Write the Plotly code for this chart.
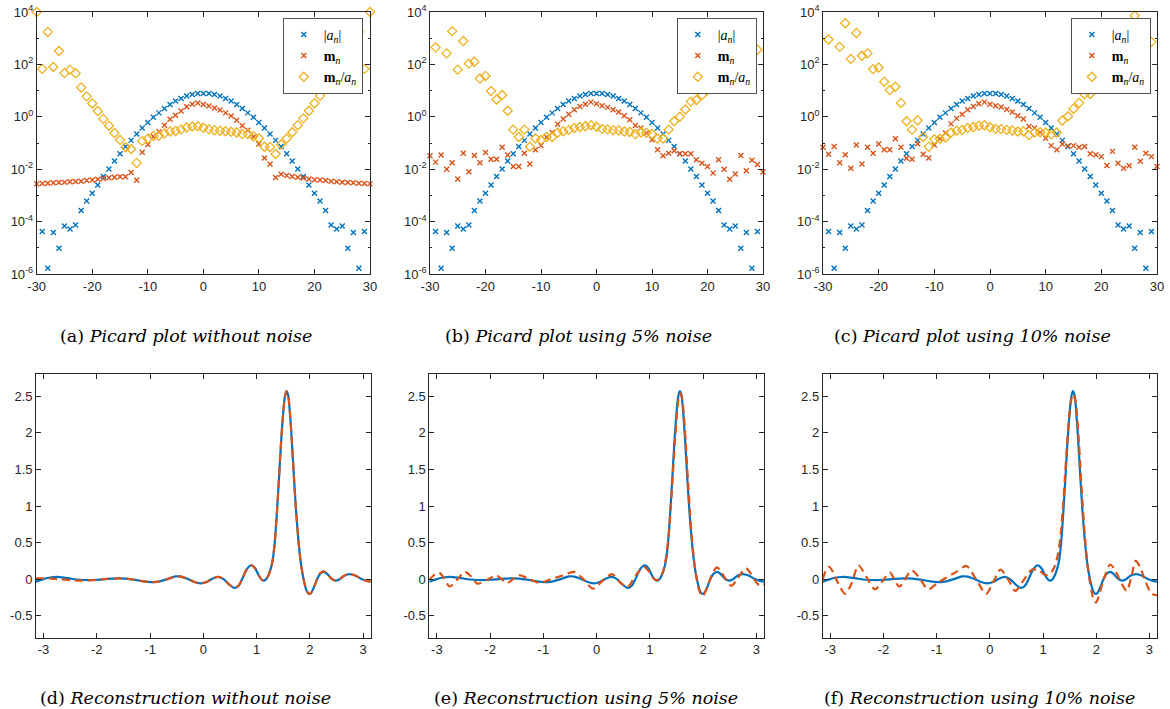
import plotly.graph_objects as go

# ---------------- data: top row (Picard plots), values as log10 ----------------
n_vals = list(range(-30, 31))

abs_a_log10 = [None, -4.38, -5.78, -4.42, -5.02, -4.17, -4.28, -4.13, -3.58, -3.21,
               -2.92, -2.60, -2.28, -1.99, -1.69, -1.41, -1.13, -0.90, -0.66, -0.43,
               -0.22, -0.02, 0.15, 0.32, 0.47, 0.60, 0.70, 0.79, 0.85, 0.89,
               0.89, 0.89, 0.85, 0.79, 0.70, 0.60, 0.47, 0.32, 0.15, -0.02,
               -0.22, -0.43, -0.66, -0.90, -1.13, -1.41, -1.69, -1.99, -2.28, -2.60,
               -2.92, -3.21, -3.58, -4.13, -4.28, -4.17, -5.02, -4.42, -5.78, -4.38, None]

m_log10_noise0 = [-2.56, -2.55, -2.54, -2.52, -2.51, -2.50, -2.48, -2.47, -2.46, -2.43,
                  -2.41, -2.38, -2.36, -2.33, -2.31, -2.29, -2.29, -2.13, -2.42, -1.35,
                  -1.06, -0.75, -0.57, -0.32, -0.09, 0.06, 0.22, 0.38, 0.48, 0.53,
                  0.47, 0.41, 0.34, 0.26, 0.15, 0.03, -0.13, -0.34, -0.51, -0.76,
                  -1.04, -1.57, -1.81, -2.32, -2.19, -2.24, -2.28, -2.31, -2.34, -2.37,
                  -2.40, -2.41, -2.43, -2.46, -2.48, -2.50, -2.51, -2.52, -2.54, -2.55, -2.56]

ratio_log10_noise0 = [4.0, 1.83, 3.24, 1.90, 2.51, 1.67, 1.80, 1.66, 1.12, 0.78,
                      0.51, 0.22, -0.08, -0.34, -0.62, -0.88, -1.16, -1.23, -1.76, -0.92,
                      -0.84, -0.73, -0.72, -0.64, -0.56, -0.54, -0.48, -0.41, -0.37, -0.36,
                      -0.42, -0.48, -0.51, -0.53, -0.55, -0.57, -0.60, -0.66, -0.66, -0.74,
                      -0.82, -1.14, -1.15, -1.42, -1.06, -0.83, -0.59, -0.32, -0.06, 0.23,
                      0.52, 0.80, 1.15, 1.67, 1.80, 1.67, 2.51, 1.90, 3.24, 1.83, 4.0]

m_log10_noise5 = [-1.49, -1.73, -1.46, -2.00, -1.75, -2.37, -1.39, -2.10, -1.48, -1.75,
                  -1.36, -1.62, -1.62, -1.16, -1.46, -1.90, -1.90, -1.39, -1.80, -1.26,
                  -1.10, -0.78, -0.60, -0.28, -0.08, 0.10, 0.27, 0.39, 0.48, 0.56,
                  0.50, 0.42, 0.36, 0.27, 0.18, 0.04, -0.11, -0.33, -0.43, -0.62,
                  -0.88, -1.26, -1.49, -1.39, -1.30, -1.41, -1.41, -1.41, -1.64, -1.77,
                  -1.90, -2.15, -1.64, -2.00, -2.38, -2.18, -1.48, -2.06, -1.66, -1.82, -2.11]

ratio_log10_noise5 = [None, 2.65, None, 2.42, 3.27, 1.80, 2.89, 2.03, 2.10, 1.46,
                      1.56, 0.98, 0.66, 0.83, 0.23, -0.49, -0.77, -0.49, -1.14, -0.83,
                      -0.88, -0.77, -0.77, -0.61, -0.55, -0.50, -0.43, -0.39, -0.36, -0.32,
                      -0.38, -0.46, -0.48, -0.51, -0.52, -0.56, -0.58, -0.66, -0.60, -0.61,
                      -0.66, -0.83, -0.83, -0.49, -0.17, 0.00, 0.28, 0.58, 0.64, 0.83,
                      1.02, 1.06, 1.94, 2.13, 1.90, 1.99, 3.54, 2.36, None, 2.56, None]

m_log10_noise10 = [-1.16, -1.43, -1.13, -1.75, -1.45, -1.96, -1.08, -1.80, -1.16, -1.39,
                   -1.04, -1.26, -1.26, -0.84, -1.16, -1.58, -1.62, -1.03, -1.43, -1.57,
                   -1.08, -0.85, -0.62, -0.27, -0.06, 0.10, 0.27, 0.39, 0.50, 0.56,
                   0.48, 0.42, 0.37, 0.28, 0.18, 0.04, -0.08, -0.37, -0.43, -0.60,
                   -0.82, -1.10, -1.26, -1.04, -1.11, -1.10, -1.16, -1.13, -1.41, -1.45,
                   -1.52, -1.86, -1.32, -1.77, -1.96, -1.87, -1.16, -1.70, -1.39, -1.52, -1.90]

ratio_log10_noise10 = [None, 2.95, None, 2.67, 3.57, 2.21, 3.20, 2.33, 2.42, 1.82,
                       1.88, 1.34, 1.02, 1.15, 0.53, -0.17, -0.49, -0.13, -0.77, -1.14,
                       -0.86, -0.84, -0.79, -0.60, -0.53, -0.50, -0.43, -0.39, -0.34, -0.32,
                       -0.40, -0.46, -0.47, -0.50, -0.52, -0.56, -0.55, -0.70, -0.60, -0.59,
                       -0.60, -0.67, -0.60, -0.14, 0.02, 0.31, 0.53, 0.86, 0.87, 1.15,
                       1.40, 1.35, 2.26, 2.36, 2.32, 2.30, 3.86, 2.72, None, 2.86, None]

# ---------------- data: bottom row (reconstructions) ----------------
true_x = [-3.1416, -3.05, -2.95, -2.85, -2.75, -2.62, -2.48, -2.32, -2.15, -1.98,
          -1.8, -1.62, -1.45, -1.28, -1.12, -0.98, -0.84, -0.68, -0.52, -0.42,
          -0.3, -0.18, -0.05, 0.07, 0.18, 0.28, 0.38, 0.48, 0.58, 0.66,
          0.74, 0.82, 0.9, 0.97, 1.04, 1.1, 1.14, 1.18, 1.22, 1.26,
          1.30, 1.34, 1.38, 1.42, 1.46, 1.50, 1.53, 1.56, 1.59, 1.62,
          1.66, 1.70, 1.74, 1.78, 1.82, 1.86, 1.90, 1.94, 1.98, 2.02,
          2.07, 2.13, 2.19, 2.26, 2.33, 2.40, 2.48, 2.56, 2.65, 2.75,
          2.85, 2.95, 3.05, 3.1416]
true_y = [-0.035, -0.012, 0.012, 0.026, 0.03, 0.022, 0.006, -0.008, -0.013, -0.008,
          0.003, 0.01, 0.007, -0.01, -0.03, -0.04, -0.033, 0.0, 0.038, 0.035,
          0.005, -0.035, -0.058, -0.035, 0.01, 0.03, 0.0, -0.07, -0.12, -0.09,
          0.02, 0.14, 0.19, 0.15, 0.05, -0.01, -0.02, 0.0, 0.05, 0.13,
          0.25, 0.50, 0.90, 1.38, 1.88, 2.28, 2.49, 2.57, 2.52, 2.32,
          1.90, 1.40, 0.94, 0.57, 0.28, 0.08, -0.06, -0.16, -0.20, -0.19,
          -0.12, -0.01, 0.07, 0.10, 0.07, 0.01, -0.02, 0.0, 0.05, 0.07,
          0.05, 0.01, -0.02, -0.035]

rec0_x = [-3.1416, -3.0, -2.85, -2.7, -2.5, -2.3, -2.1, -1.95, -1.8, -1.62,
          -1.45, -1.28, -1.12, -0.98, -0.84, -0.68, -0.52, -0.42, -0.3, -0.18,
          -0.05, 0.07, 0.18, 0.28, 0.38, 0.48, 0.58, 0.66, 0.74, 0.82,
          0.9, 0.97, 1.04, 1.1, 1.14, 1.18, 1.22, 1.26, 1.30, 1.34,
          1.38, 1.42, 1.46, 1.50, 1.53, 1.56, 1.59, 1.62, 1.66, 1.70,
          1.74, 1.78, 1.82, 1.86, 1.90, 1.94, 1.98, 2.02, 2.07, 2.13,
          2.19, 2.26, 2.33, 2.40, 2.48, 2.56, 2.65, 2.75, 2.85, 2.95,
          3.05, 3.1416]
rec0_y = [0.01, 0.012, 0.008, -0.002, -0.012, -0.02, -0.015, -0.005, 0.003, 0.01,
          0.007, -0.01, -0.03, -0.04, -0.033, 0.0, 0.038, 0.035, 0.005, -0.035,
          -0.058, -0.035, 0.01, 0.03, 0.0, -0.07, -0.12, -0.09, 0.02, 0.14,
          0.19, 0.15, 0.05, -0.01, -0.02, 0.0, 0.05, 0.13, 0.25, 0.50,
          0.90, 1.38, 1.88, 2.28, 2.49, 2.57, 2.52, 2.32, 1.90, 1.40,
          0.94, 0.57, 0.28, 0.08, -0.06, -0.16, -0.20, -0.19, -0.12, -0.01,
          0.08, 0.11, 0.07, 0.01, -0.02, 0.0, 0.05, 0.07, 0.05, 0.01,
          -0.02, -0.03]

rec5_x = [-3.1416, -3.05, -2.96, -2.86, -2.76, -2.62, -2.48, -2.36, -2.24, -2.06,
          -1.88, -1.68, -1.46, -1.26, -1.07, -0.86, -0.64, -0.43, -0.25, -0.07,
          0.1, 0.29, 0.45, 0.58, 0.72, 0.88, 0.99, 1.08, 1.14, 1.19,
          1.23, 1.27, 1.31, 1.35, 1.39, 1.43, 1.47, 1.51, 1.545, 1.575,
          1.605, 1.635, 1.675, 1.715, 1.755, 1.795, 1.835, 1.875, 1.915, 1.955,
          1.995, 2.04, 2.1, 2.18, 2.26, 2.33, 2.42, 2.53, 2.62, 2.7,
          2.8, 2.9, 3.0, 3.08, 3.1416]
rec5_y = [-0.01, 0.06, 0.09, 0.01, -0.1, -0.01, 0.1, 0.04, -0.06, -0.01,
          0.05, -0.05, 0.055, 0.0, -0.05, 0.0, 0.05, 0.1, 0.0, -0.13,
          -0.03, 0.07, -0.05, -0.11, 0.04, 0.17, 0.1, 0.0, -0.01, 0.02,
          0.07, 0.17, 0.33, 0.58, 0.96, 1.42, 1.88, 2.27, 2.50, 2.54,
          2.47, 2.26, 1.84, 1.34, 0.88, 0.5, 0.22, 0.02, -0.13, -0.21,
          -0.23, -0.17, -0.06, 0.09, 0.16, 0.11, 0.0, -0.09, -0.02, 0.07,
          0.15, 0.07, -0.05, -0.09, -0.07]

rec10_x = [-3.1416, -3.08, -3.02, -2.95, -2.85, -2.72, -2.6, -2.47, -2.32, -2.16,
           -2.02, -1.88, -1.7, -1.47, -1.31, -1.16, -1.0, -0.82, -0.63, -0.44,
           -0.26, -0.07, 0.07, 0.2, 0.34, 0.48, 0.63, 0.79, 0.92, 1.03,
           1.1, 1.16, 1.21, 1.25, 1.29, 1.33, 1.37, 1.41, 1.45, 1.49,
           1.53, 1.565, 1.60, 1.635, 1.675, 1.715, 1.755, 1.795, 1.835, 1.875,
           1.915, 1.955, 1.995, 2.04, 2.1, 2.18, 2.26, 2.34, 2.45, 2.57,
           2.66, 2.74, 2.82, 2.92, 3.04, 3.1416]
rec10_y = [0.0, 0.12, 0.17, 0.1, -0.06, -0.2, -0.06, 0.19, 0.03, -0.14,
           -0.03, 0.09, -0.1, 0.12, 0.0, -0.14, -0.06, 0.02, 0.1, 0.18,
           0.0, -0.2, -0.03, 0.13, 0.0, -0.16, -0.02, 0.13, 0.12, 0.06,
           0.06, 0.1, 0.16, 0.25, 0.38, 0.6, 0.95, 1.38, 1.84, 2.22,
           2.45, 2.53, 2.47, 2.27, 1.86, 1.36, 0.9, 0.5, 0.2, -0.02,
           -0.18, -0.29, -0.32, -0.25, -0.1, 0.08, 0.2, 0.14, -0.02, -0.16,
           0.03, 0.25, 0.17, -0.02, -0.2, -0.22]

captions_top = ["(a) <i>Picard plot without noise</i>",
                "(b) <i>Picard plot using 5% noise</i>",
                "(c) <i>Picard plot using 10% noise</i>"]
captions_bottom = ["(d) <i>Reconstruction without noise</i>",
                   "(e) <i>Reconstruction using 5% noise</i>",
                   "(f) <i>Reconstruction using 10% noise</i>"]

legend_labels = ["|<i>a<sub>n</sub></i>|",
                 "<b>m</b><sub><i>n</i></sub>",
                 "<b>m</b><sub><i>n</i></sub>/<i>a<sub>n</sub></i>"]

# ---------------- styling / layout ----------------
W, H = 1170, 709
BLUE, RED, YELLOW = "#0072BD", "#D95319", "#EDB120"
AXC = "#262626"
TICKFONT = dict(family="Liberation Sans, Arial, sans-serif", size=13, color=AXC)
CAPFONT = dict(family="DejaVu Serif, serif", size=17.5, color="black")

def px_x(a, b):
    return [a / W, b / W]

def px_y(top, bottom):
    return [1 - bottom / H, 1 - top / H]

top_x_dom = [px_x(36.7, 370), px_x(430, 763), px_x(823, 1157)]
bot_x_dom = [px_x(36, 370.7), px_x(429.3, 764), px_x(822.7, 1157)]
top_y_dom = px_y(12, 274)
bot_y_dom = px_y(374.3, 637.7)

def tolin(lst):
    return [None if v is None else 10 ** v for v in lst]

fig = go.Figure()

m_sets = [m_log10_noise0, m_log10_noise5, m_log10_noise10]
r_sets = [ratio_log10_noise0, ratio_log10_noise5, ratio_log10_noise10]
legend_ids = ["legend", "legend2", "legend3"]

for i in range(3):
    xa = "x" if i == 0 else f"x{i+1}"
    ya = "y" if i == 0 else f"y{i+1}"
    common = dict(xaxis=xa, yaxis=ya, mode="markers", cliponaxis=False, legend=legend_ids[i])
    fig.add_trace(go.Scatter(x=n_vals, y=tolin(abs_a_log10), name=legend_labels[0],
                             marker=dict(symbol="x-thin", size=5, color=BLUE,
                                         line=dict(width=1.4, color=BLUE)), **common))
    fig.add_trace(go.Scatter(x=n_vals, y=tolin(m_sets[i]), name=legend_labels[1],
                             marker=dict(symbol="x-thin", size=5, color=RED,
                                         line=dict(width=1.4, color=RED)), **common))
    fig.add_trace(go.Scatter(x=n_vals, y=tolin(r_sets[i]), name=legend_labels[2],
                             marker=dict(symbol="diamond-open", size=7, color=YELLOW,
                                         line=dict(width=1.3, color=YELLOW)), **common))

rec_sets = [(rec0_x, rec0_y), (rec5_x, rec5_y), (rec10_x, rec10_y)]
for i in range(3):
    xa = f"x{i+4}"
    ya = f"y{i+4}"
    fig.add_trace(go.Scatter(x=true_x, y=true_y, xaxis=xa, yaxis=ya, mode="lines",
                             line=dict(color=BLUE, width=2.2, shape="spline", smoothing=0.8),
                             showlegend=False))
    rx, ry = rec_sets[i]
    fig.add_trace(go.Scatter(x=rx, y=ry, xaxis=xa, yaxis=ya, mode="lines",
                             line=dict(color=RED, width=2.2, dash="8px,5px",
                                       shape="spline", smoothing=0.8),
                             showlegend=False))

axis_common = dict(showline=True, linecolor=AXC, linewidth=0.8, mirror="ticks",
                   ticks="inside", ticklen=5, tickwidth=0.8, tickcolor=AXC,
                   showgrid=False, zeroline=False, tickfont=TICKFONT, automargin=False)

layout = dict(width=W, height=H, margin=dict(l=0, r=0, t=0, b=0, autoexpand=False),
              paper_bgcolor="white", plot_bgcolor="white", template="none")

log_ticks = [1e-6, 1e-4, 1e-2, 1, 1e2, 1e4]
log_text = ["10<sup>-6</sup>", "10<sup>-4</sup>", "10<sup>-2</sup>", "10<sup>0</sup>",
            "10<sup>2</sup>", "10<sup>4</sup>"]

for i in range(3):
    xk = "xaxis" if i == 0 else f"xaxis{i+1}"
    yk = "yaxis" if i == 0 else f"yaxis{i+1}"
    xa = "x" if i == 0 else f"x{i+1}"
    ya = "y" if i == 0 else f"y{i+1}"
    layout[xk] = dict(domain=top_x_dom[i], anchor=ya, range=[-30, 30],
                      tickvals=[-30, -20, -10, 0, 10, 20, 30],
                      ticktext=["-30", "-20", "-10", "0", "10", "20", "30"], **axis_common)
    layout[yk] = dict(domain=top_y_dom, anchor=xa, type="log", range=[-6, 4],
                      tickvals=log_ticks, ticktext=log_text,
                      minor=dict(ticks="inside", ticklen=2.5, tickcolor=AXC, tickwidth=0.6,
                                 tickvals=[1e-5, 1e-3, 1e-1, 1e1, 1e3]),
                      **axis_common)

for i in range(3):
    xk = f"xaxis{i+4}"
    yk = f"yaxis{i+4}"
    layout[xk] = dict(domain=bot_x_dom[i], anchor=f"y{i+4}", range=[-3.14159, 3.14159],
                      tickvals=[-3, -2, -1, 0, 1, 2, 3],
                      ticktext=["-3", "-2", "-1", "0", "1", "2", "3"], **axis_common)
    layout[yk] = dict(domain=bot_y_dom, anchor=f"x{i+4}", range=[-0.8, 2.8],
                      tickvals=[-0.5, 0, 0.5, 1, 1.5, 2, 2.5],
                      ticktext=["-0.5", "0", "0.5", "1", "1.5", "2", "2.5"], **axis_common)

legend_right = [363, 757, 1151]
for i, lid in enumerate(legend_ids):
    layout[lid] = dict(x=legend_right[i] / W, y=1 - 18 / H, xanchor="right", yanchor="top",
                       bgcolor="white", bordercolor=AXC, borderwidth=0.8,
                       font=dict(family="Liberation Serif, serif", size=14, color="black"),
                       tracegroupgap=0, itemwidth=30)

fig.update_layout(**layout)

cap_top_cx = [186, 578, 972]
cap_bot_cx = [185, 586, 979]
for i in range(3):
    fig.add_annotation(text=captions_top[i], x=cap_top_cx[i] / W, y=1 - 336 / H,
                       xref="paper", yref="paper", showarrow=False, font=CAPFONT,
                       xanchor="center", yanchor="middle")
    fig.add_annotation(text=captions_bottom[i], x=cap_bot_cx[i] / W, y=1 - 698 / H,
                       xref="paper", yref="paper", showarrow=False, font=CAPFONT,
                       xanchor="center", yanchor="middle")

fig.write_html("out.html", config={"displayModeBar": False},
               post_script="document.body.style.margin='0';"
                           "document.body.style.overflow='hidden';")
